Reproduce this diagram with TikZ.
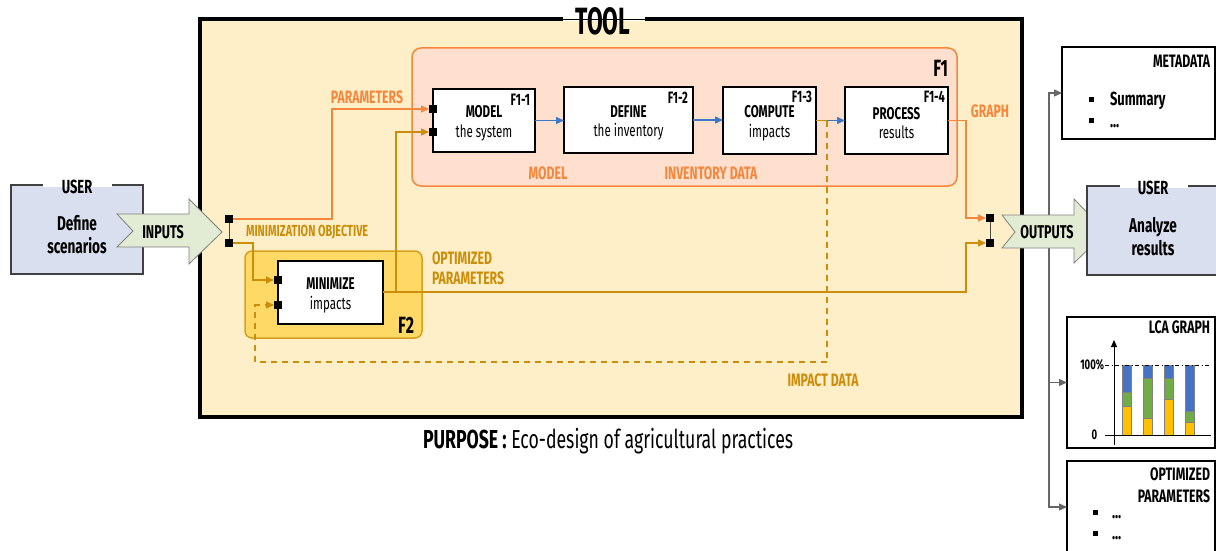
\documentclass[tikz,border=0pt]{standalone}
\usepackage{fontspec}
\setmainfont{Fira Sans}[FakeStretch=0.68]
\newfontfamily\titlefont{Fira Sans}[FakeStretch=0.6]
\usetikzlibrary{arrows.meta,calc}
\newcommand{\mytopstrut}{\rule{0pt}{17.7pt}}
\definecolor{toolfill}{RGB}{255,239,200}
\definecolor{fonefill}{RGB}{255,224,206}
\definecolor{orangeC}{RGB}{245,135,60}
\definecolor{ftwofill}{RGB}{255,217,102}
\definecolor{ftwoline}{RGB}{214,160,30}
\definecolor{goldC}{RGB}{204,142,10}
\definecolor{blueC}{RGB}{60,120,200}
\definecolor{userfill}{RGB}{217,223,239}
\definecolor{arrowfill}{RGB}{226,235,212}
\definecolor{barblue}{RGB}{68,114,196}
\definecolor{bargreen}{RGB}{112,173,71}
\definecolor{baryellow}{RGB}{255,192,0}
\begin{document}
\begin{tikzpicture}[x=1pt,y=-1pt,
  every node/.style={outer sep=0pt, inner sep=0pt},
  arr/.style={-{Triangle[length=8pt,width=7pt]}},
  toolframe/.style={draw=black,line width=3.5pt,fill=toolfill},
  grpone/.style={draw=orangeC,line width=1.5pt,fill=fonefill,rounded corners=9pt},
  grptwo/.style={draw=ftwoline,line width=1.5pt,fill=ftwofill,rounded corners=7pt},
  proc/.style={draw=black,line width=1.8pt,fill=white,align=center,font=\fontsize{17}{19.5}\selectfont},
  port/.style={fill=black,minimum size=8pt},
  fnum/.style={font=\fontsize{16.5}{18}\selectfont\bfseries, anchor=north east},
  olbl/.style={text=orangeC,font=\fontsize{18}{20}\selectfont\bfseries},
  glbl/.style={text=goldC,font=\fontsize{18}{20}\selectfont\bfseries, align=left},
  oline/.style={draw=orangeC,line width=1.4pt},
  gline/.style={draw=goldC,line width=1.4pt},
  bline/.style={draw=blueC,line width=1.4pt},
  jline/.style={draw=black!70,line width=0.8pt},
  userbox/.style={draw=black!75,line width=1.5pt,fill=userfill},
  usertitle/.style={font=\fontsize{19}{20}\selectfont\bfseries},
  usertext/.style={font=\fontsize{20}{23}\selectfont\bfseries,align=center},
  bigarrow/.style={draw=black!50,line width=0.8pt,fill=arrowfill},
  outbox/.style={draw=black,line width=1.5pt,fill=white},
  outhead/.style={font=\fontsize{18}{21.5}\selectfont\bfseries,align=right,anchor=north east},
  grayln/.style={draw=black!60,line width=1.2pt},
  barbox/.style={draw=black!50,line width=0.3pt},
  bullet/.style={fill=black,minimum size=5pt},
  itemtxt/.style={font=\fontsize{19}{20}\selectfont\bfseries,anchor=base west},
]
\useasboundingbox (0,0) rectangle (1216,551);
\fill[white] (0,0) rectangle (1216,551);

% ---------- TOOL frame ----------
\node[toolframe, minimum width=822pt, minimum height=398pt] (tool) at (611,218) {};
\node[fill=white, minimum width=82pt, minimum height=4pt] (toolgap) at (604,19) {};
\draw[line width=0.6pt] (toolgap.west) -- (toolgap.east);
\node[font=\titlefont\fontsize{38}{40}\selectfont\bfseries] (tooltitle) at (603,21) {TOOL};

% ---------- groups ----------
\node[grpone, minimum width=545pt, minimum height=138pt] (fone) at (684.5,117) {};
\node[font=\fontsize{23.5}{26}\selectfont\bfseries, anchor=north east] (fonelbl) at (948,60) {F1};
\node[grptwo, minimum width=177pt, minimum height=87pt] (ftwo) at (333.5,294.5) {};
\node[font=\fontsize{23.5}{26}\selectfont\bfseries, anchor=south east] (ftwolbl) at (414,333) {F2};

% ---------- ports / junctions ----------
\coordinate (mp1c) at (433,109);
\coordinate (mp2c) at (433,132);
\coordinate (np1c) at (278,280);
\coordinate (np2c) at (278,305);
\coordinate (j1c) at (229,219);
\coordinate (j2c) at (229,243);
\coordinate (op1c) at (990,218);
\coordinate (op2c) at (990,243);

% ---------- boxes ----------
\node[proc, minimum width=102pt, minimum height=63pt] (model) at (484,120.5) {\mytopstrut\textbf{MODEL}\\the system};
\node[proc, minimum width=129pt, minimum height=66pt] (define) at (628.5,120) {\mytopstrut\textbf{DEFINE}\\the inventory};
\node[proc, minimum width=93pt, minimum height=67pt] (compute) at (769.5,120.5) {\mytopstrut\textbf{COMPUTE}\\impacts};
\node[proc, minimum width=103pt, minimum height=67pt] (process) at (896.5,120.5) {\mytopstrut\textbf{PROCESS}\\results};
\node[proc, minimum width=105pt, minimum height=63pt] (minim) at (330.5,292.5) {\mytopstrut\textbf{MINIMIZE}\\impacts};

\node[fnum] (fn1) at ($(model.north east)+(-5,5)$) {F1-1};
\node[fnum] (fn2) at ($(define.north east)+(-5,5)$) {F1-2};
\node[fnum] (fn3) at ($(compute.north east)+(-4,4)$) {F1-3};
\node[fnum] (fn4) at ($(process.north east)+(-3,4)$) {F1-4};

\node[port] (mp1) at (mp1c) {};
\node[port] (mp2) at (mp2c) {};
\node[port] (np1) at (np1c) {};
\node[port] (np2) at (np2c) {};

% ---------- connectors ----------
\draw[bline,arr] (model.east) -- (model.east -| define.west);
\draw[bline,arr] (define.east) -- (define.east -| compute.west);
\draw[bline,arr] (compute.east) -- (compute.east -| process.west);
\draw[gline] (compute.east) -- (827,120.5);
\coordinate (impsplit) at (827,120.5);
\draw[gline, dash pattern=on 6pt off 5pt, arr] (impsplit) -- (827,362) -- (255,362) -- (255,305) -- (np2.west);

\draw[jline] (j1c) -- (j2c);
\draw[jline] (op1c) -- (op2c);
\node[port] (j1) at (j1c) {};
\node[port] (j2) at (j2c) {};
\node[port] (op1) at (op1c) {};
\node[port] (op2) at (op2c) {};

\draw[oline,arr] (j1.east) -| (332,109) -- (mp1.west);
\draw[gline,arr] (j2.east) -| (253,280) -- (np1.west);
\coordinate (minout) at (minim.east |- 0,292);
\draw[gline,arr] (minout) -- (396,292) -- (396,132) -- (mp2.west);
\draw[gline,arr] (396,292) -- (966,292) -- (966,243) -- (op2.west);
\draw[oline,arr] (process.east) -- (966,120.5) -- (966,218) -- (op1.west);

% ---------- labels ----------
\node[olbl] (lparam) at (367,97) {PARAMETERS};
\node[glbl, font=\fontsize{16}{18}\selectfont\bfseries, anchor=west] (lminobj) at (246,232) {MINIMIZATION OBJECTIVE};
\node[glbl, anchor=north west] (lopt) at (432,252) {OPTIMIZED\\PARAMETERS};
\node[olbl] (lmodel) at (548,173) {MODEL};
\node[olbl] (linv) at (711,173) {INVENTORY DATA};
\node[olbl] (lgraph) at (990,111) {GRAPH};
\node[glbl] (limpact) at (823,380) {IMPACT DATA};

\node[anchor=base west, font=\fontsize{26}{28}\selectfont] (purpose) at (423,448) {\textbf{PURPOSE :} Eco-design of agricultural practices};

% ---------- left user ----------
\node[userbox, minimum width=132pt, minimum height=89pt] (userl) at (77,229.5) {};
\node[fill=white, minimum width=69pt, minimum height=4pt] (userlgap) at (77.5,185) {};
\node[usertitle] (userltitle) at (77,187) {USER};
\node[usertext] (userltext) at (77,235) {Define\\scenarios};

\draw[bigarrow] (117,214) -- (189,214) -- (189,199) -- (222,232) -- (189,264) -- (189,247) -- (117,247) -- (133,231) -- cycle;
\node[font=\fontsize{18.5}{20}\selectfont\bfseries] (inputs) at (163,232) {INPUTS};

% ---------- right side ----------
\node[outbox, minimum width=153pt, minimum height=92pt] (meta) at (1138.5,93) {};
\node[outbox, minimum width=148pt, minimum height=131pt] (lca) at (1141,382.5) {};
\node[outbox, minimum width=148pt, minimum height=92pt] (optp) at (1141,507) {};

\coordinate (dist) at (1049,232);
\draw[grayln,arr] (dist) |- (meta.west);
\draw[grayln,arr] (dist) |- (lca.west);
\draw[grayln,arr] (dist) |- (optp.west);

\draw[bigarrow] (1002,215) -- (1074,215) -- (1074,199) -- (1106,232) -- (1074,263) -- (1074,248) -- (1002,248) -- (1015,232) -- cycle;
\node[font=\fontsize{18.5}{20}\selectfont\bfseries] (outputs) at (1047,232) {OUTPUTS};

\node[userbox, minimum width=132pt, minimum height=89pt] (userr) at (1153,230.5) {};
\node[fill=white, minimum width=68pt, minimum height=4pt] (userrgap) at (1154,186) {};
\node[usertitle] (userrtitle) at (1153,188) {USER};
\node[usertext] (userrtext) at (1153,237) {Analyze\\results};

% metadata
\node[outhead] (metahead) at (1210,55) {METADATA};
\node[bullet] (mb1) at (1091,99.5) {};
\node[bullet] (mb2) at (1091,120) {};
\node[itemtxt] (mt1) at (1110,106) {Summary};
\node[itemtxt] (mt2) at (1110,127) {...};

% LCA graph
\node[outhead] (lcahead) at (1210,321) {LCA GRAPH};
\foreach \x/\a/\b in {1127/392/406, 1148/378/418, 1169/378/399, 1190/411/422}{
  \filldraw[barbox, fill=barblue] (\x-4.5,365) rectangle (\x+4.5,\a);
  \filldraw[barbox, fill=bargreen] (\x-4.5,\a) rectangle (\x+4.5,\b);
  \filldraw[barbox, fill=baryellow] (\x-4.5,\b) rectangle (\x+4.5,435);
}
\draw[line width=0.9pt, dash pattern=on 4pt off 2.5pt on 1pt off 2.5pt] (1105,365) -- (1211,365);
\draw[line width=1pt] (1105,435) -- (1211,435);
\draw[line width=1pt, -{Triangle[length=7pt,width=6pt]}] (1114,445) -- (1114,340);
\node[font=\fontsize{14}{15}\selectfont\bfseries, anchor=east] (hundred) at (1104,365) {100\%};
\node[font=\fontsize{14}{15}\selectfont\bfseries] (zero) at (1094.5,435) {0};

% optimized parameters
\node[outhead] (opthead) at (1210,468) {OPTIMIZED\\PARAMETERS};
\node[bullet] (ob1) at (1095,512) {};
\node[bullet] (ob2) at (1095,533) {};
\node[itemtxt] (ot1) at (1112,518) {...};
\node[itemtxt] (ot2) at (1112,539) {...};
\end{tikzpicture}
\end{document}
